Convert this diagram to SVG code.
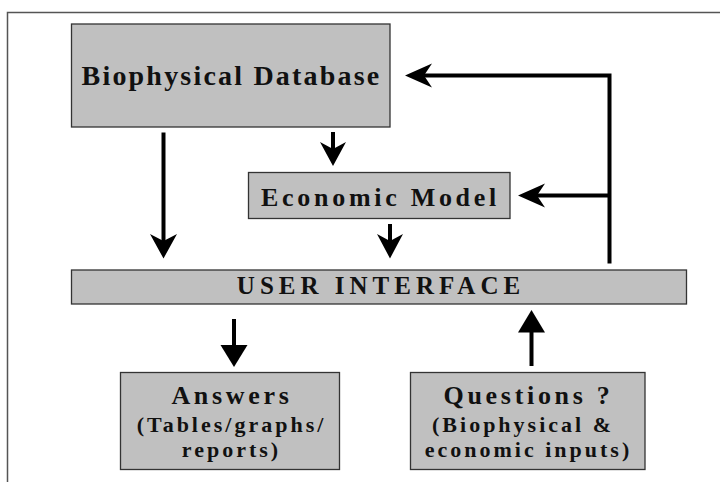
<svg xmlns="http://www.w3.org/2000/svg" width="720" height="482" viewBox="0 0 720 482">
<style>
.box{fill:#c0c0c0;stroke:#333;stroke-width:1.3}
.t{font-family:"Liberation Serif","Times New Roman",serif;font-weight:bold;fill:#111;text-anchor:middle}
.big{font-size:28px;letter-spacing:2.2px}
.mid{font-size:26px;letter-spacing:3.7px}
.ui{font-size:25px;letter-spacing:5px}
.sub{font-size:22px;letter-spacing:3px}
.ln{stroke:#000;stroke-width:4;fill:none}
.hd{fill:#000;stroke:none}
.frame{stroke:#555;stroke-width:1.5;fill:none}
</style>
<rect width="720" height="482" fill="#fff"/>
<path class="frame" d="M7.5,482 V12.5 H720"/>
<g id="biophysical-database">
<rect class="box" x="71.5" y="24" width="318.5" height="103"/>
<text class="t big" x="231.5" y="85">Biophysical Database</text>
</g>
<g id="economic-model">
<rect class="box" x="248.5" y="172.5" width="261.5" height="46"/>
<text class="t mid" x="380.5" y="206">Economic Model</text>
</g>
<g id="user-interface">
<rect class="box" x="71.5" y="270" width="615" height="34"/>
<text class="t ui" x="381" y="294">USER INTERFACE</text>
</g>
<g id="answers">
<rect class="box" x="120.5" y="372.5" width="219" height="97"/>
<text class="t mid" x="232" y="403.5">Answers</text>
<text class="t sub" x="231.5" y="432">(Tables/graphs/</text>
<text class="t sub" x="231.5" y="457">reports)</text>
</g>
<g id="questions">
<rect class="box" x="410.5" y="372.5" width="234.5" height="97"/>
<text class="t mid" x="528.5" y="403.5">Questions ?</text>
<text class="t sub" x="523" y="432">(Biophysical &amp;</text>
<text class="t sub" x="528.5" y="457">economic inputs)</text>
</g>
<g id="connectors">
<path class="ln" d="M163.5,132.5 V245"/>
<polygon class="hd" points="163.5,258.5 150,234 163.5,241 177,234"/>
<path class="ln" d="M333,132 V155"/>
<polygon class="hd" points="333,166 320,142 333,149 346,142"/>
<path class="ln" d="M390,224 V245"/>
<polygon class="hd" points="390,258.5 377,234 390,241 403,234"/>
<path class="ln" d="M234,319 V347"/>
<polygon class="hd" points="234,367 220.5,345 247.5,345"/>
<path class="ln" d="M531.5,366 V330"/>
<polygon class="hd" points="531.5,310 518,332.5 545,332.5"/>
<path class="ln" d="M609.5,263.5 V75.5 H420"/>
<polygon class="hd" points="405,75.5 432,63.5 424,75.5 432,87.5"/>
<path class="ln" d="M609.5,195.5 H533"/>
<polygon class="hd" points="518,195.5 545,183.5 537,195.5 545,207.5"/>
</g>
</svg>
